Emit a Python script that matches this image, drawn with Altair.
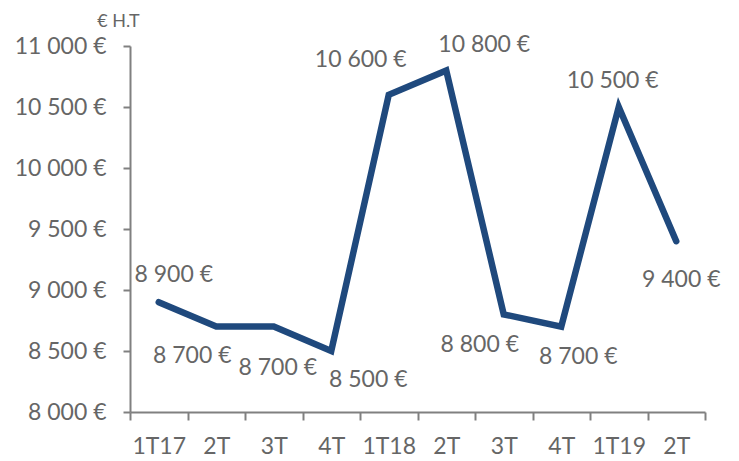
import altair as alt
import pandas as pd

categories = ["1T17", "2T", "3T", "4T", "1T18", "2T", "3T", "4T", "1T19", "2T"]
values = [8900, 8700, 8700, 8500, 10600, 10800, 8800, 8700, 10500, 9400]
y_ticks = [8000, 8500, 9000, 9500, 10000, 10500, 11000]

# label placement offsets (style only), in pixels
label_dx = [15, -24, 4, 37, -28, 38, -24, 17, -6, 5]
label_dy = [-27, 29, 41, 29, -35, -25, 31, 30, -26, 39]

df = pd.DataFrame({"i": list(range(len(categories))), "value": values})

FONT = "Lato"
GREY = "#666666"
AXIS_GREY = "#808080"
LINE = "#1F497D"
FS = 23

label_expr_x = "[" + ",".join("'%s'" % c for c in categories) + "][datum.value]"
euro_expr = "replace(format(datum.value, ','), ',', ' ') + ' €'"

x_enc = alt.X(
    "i:O",
    scale=alt.Scale(type="band", paddingInner=0, paddingOuter=0),
    axis=alt.Axis(
        title=None,
        labelExpr=label_expr_x,
        labelAngle=0,
        labelFont=FONT,
        labelFontSize=FS,
        labelColor=GREY,
        labelPadding=15,
        tickBand="extent",
        tickSize=8,
        tickWidth=2,
        tickColor=AXIS_GREY,
        domainColor=AXIS_GREY,
        domainWidth=2,
        grid=False,
    ),
)
y_enc = alt.Y(
    "value:Q",
    scale=alt.Scale(domain=[8000, 11000], nice=False, zero=False),
    axis=alt.Axis(
        title="€ H.T",
        titleAngle=0,
        titleFont=FONT,
        titleFontSize=18,
        titleFontWeight="normal",
        titleColor=GREY,
        titleAlign="center",
        titleBaseline="alphabetic",
        titleX=-12,
        titleY=-20,
        values=y_ticks,
        labelExpr=euro_expr,
        labelFont=FONT,
        labelFontSize=FS,
        labelColor=GREY,
        labelPadding=17,
        tickSize=7,
        tickWidth=2,
        tickColor=AXIS_GREY,
        domainColor=AXIS_GREY,
        domainWidth=2,
        grid=False,
    ),
)

base = alt.Chart(df)
line = base.mark_line(color=LINE, strokeWidth=6.5, strokeCap="round").encode(x=x_enc, y=y_enc)

layers = [line]
for k in range(len(values)):
    t = (
        base.transform_filter(alt.datum.i == k)
        .transform_calculate(lab=euro_expr)
        .mark_text(
            font=FONT,
            fontSize=FS,
            color=GREY,
            align="center",
            baseline="middle",
            dx=label_dx[k],
            dy=label_dy[k],
        )
        .encode(x=alt.X("i:O"), y=alt.Y("value:Q"), text="lab:N")
    )
    layers.append(t)

chart = (
    alt.layer(*layers)
    .properties(
        width=575,
        height=366,
        autosize=alt.AutoSizeParams(type="none"),
        padding={"left": 122, "top": 38, "right": 20, "bottom": 47},
    )
    .configure_view(stroke=None)
)

chart.save("out.html", embed_options={"renderer": "svg", "actions": False})
